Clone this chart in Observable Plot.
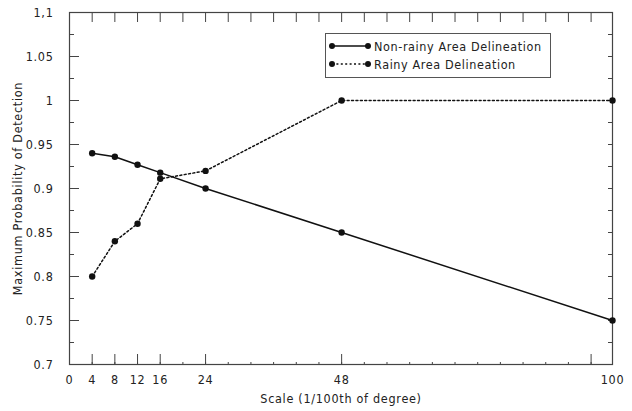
<!DOCTYPE html>
<html><head><meta charset="utf-8">
<script src="https://cdn.jsdelivr.net/npm/d3@7"></script>
<script src="https://cdn.jsdelivr.net/npm/@observablehq/plot@0.6"></script>
<style>
body{margin:0;background:#fff;}
#wrap{position:relative;width:632px;height:411px;}
#chart svg text{letter-spacing:0.7px;}
#legend{position:absolute;left:325px;top:33px;width:226px;height:45px;border:1px solid #555;box-sizing:border-box;background:#fff;font-family:"DejaVu Sans Condensed","DejaVu Sans",sans-serif;font-size:12.5px;color:#222;letter-spacing:0.6px;}
#legend .row{position:absolute;left:0;height:16px;display:flex;align-items:center;}
#legend svg{margin-left:3px;margin-right:3px;}
</style></head><body>
<div id="wrap"><div id="chart"></div><div id="legend"></div></div>
<script>
// ---- data ----
const scales = [4, 8, 12, 16, 24, 48, 100];
const nonRainy = [0.94, 0.936, 0.927, 0.918, 0.90, 0.85, 0.75];
const rainy = [0.80, 0.84, 0.86, 0.911, 0.92, 1.00, 1.00];
const seriesNames = ["Non-rainy Area Delineation", "Rainy Area Delineation"];
const xTickValues = [0, 4, 8, 12, 16, 24, 48, 100];
const xTickLabels = ["0", "4", "8", "12", "16", "24", "48", "100"];
const xMajorTicks = [4, 8, 12, 16, 24, 48, 92];
const xMinorTicks = [4, 8, 12, 16, 20, 24, 28, 32, 36, 40, 44, 48, 52, 56, 60, 64, 68, 72, 76, 80, 84, 88, 92];
const yTickValues = [0.7, 0.75, 0.8, 0.85, 0.9, 0.95, 1, 1.05, 1.1];
const yTickLabels = ["0.7", "0.75", "0.8", "0.85", "0.9", "0.95", "1", "1.05", "1,1"];
const yMinorTicks = [0.725, 0.775, 0.825, 0.875, 0.925, 0.975, 1.025, 1.075];
const xTitle = "Scale (1/100th of degree)";
const yTitle = "Maximum Probability of Detection";

const rows = scales.flatMap((s, i) => [
  {scale: s, p: nonRainy[i], series: seriesNames[0]},
  {scale: s, p: rainy[i], series: seriesNames[1]}
]);
const font = "DejaVu Sans Condensed";
const blank = () => "";
const ink = "#222";
const tk = "#444";

const plot = Plot.plot({
  width: 632, height: 411,
  marginLeft: 69, marginRight: 20, marginTop: 12, marginBottom: 47,
  style: {fontFamily: font, fontSize: "12.5px", color: ink, background: "#fff"},
  x: {type: "linear", domain: [0, 92, 100], range: [69, 590.6, 612]},
  y: {type: "linear", domain: [0.7, 1.1]},
  marks: [
    Plot.frame({stroke: tk, strokeWidth: 1.2}),
    Plot.axisY({anchor: "left", ticks: yTickValues, tickSize: 10, dx: 10, tickFormat: blank, label: null, stroke: tk}),
    Plot.axisY({anchor: "left", ticks: yMinorTicks, tickSize: 5, dx: 5, tickFormat: blank, label: null, stroke: tk}),
    Plot.axisY({anchor: "right", ticks: yTickValues.concat(yMinorTicks), tickSize: 5, dx: -5, tickFormat: blank, label: null, stroke: tk}),
    Plot.axisX({anchor: "top", ticks: xMinorTicks, tickSize: 9, dy: 9, tickFormat: blank, label: null, stroke: tk}),
    Plot.axisX({anchor: "bottom", ticks: xMajorTicks, tickSize: 10, dy: -10, tickFormat: blank, label: null, stroke: tk}),
    Plot.axisX({anchor: "bottom", ticks: xMinorTicks, tickSize: 2, dy: -2, tickFormat: blank, label: null, stroke: tk}),
    Plot.axisY({anchor: "left", ticks: yTickValues, tickSize: 0, tickPadding: 16,
      tickFormat: d => yTickLabels[yTickValues.indexOf(d)], label: null, fill: ink}),
    Plot.axisX({anchor: "bottom", ticks: xTickValues, tickSize: 0, tickPadding: 11,
      tickFormat: d => xTickLabels[xTickValues.indexOf(d)], label: null, fill: ink}),
    Plot.text([yTitle], {frameAnchor: "left", textAnchor: "middle", rotate: -90, dx: -52, text: d => d, fill: ink, fontSize: 12.5}),
    Plot.text([xTitle], {frameAnchor: "bottom", textAnchor: "middle", dy: 38, text: d => d, fill: ink, fontSize: 12.5}),
    Plot.line(rows.filter(d => d.series === seriesNames[0]), {x: "scale", y: "p", stroke: "#111", strokeWidth: 1.5}),
    Plot.line(rows.filter(d => d.series === seriesNames[1]), {x: "scale", y: "p", stroke: "#111", strokeWidth: 1.5, strokeDasharray: "2,2.4"}),
    Plot.dot(rows, {x: "scale", y: "p", r: 3.2, fill: "#111", stroke: "none"})
  ]
});
document.getElementById("chart").appendChild(plot);

// legend
const legend = document.getElementById("legend");
seriesNames.forEach((name, i) => {
  const row = document.createElement("div");
  row.className = "row";
  row.style.top = (i === 0 ? 4 : 22) + "px";
  const dash = i === 0 ? "" : 'stroke-dasharray="2,2.4"';
  row.innerHTML = `<svg width="42" height="10"><line x1="3" y1="5" x2="39" y2="5" stroke="#111" stroke-width="1.5" ${dash}/><circle cx="3" cy="5" r="3" fill="#111"/><circle cx="39" cy="5" r="3" fill="#111"/></svg><span>${name}</span>`;
  legend.appendChild(row);
});
</script>
</body></html>
